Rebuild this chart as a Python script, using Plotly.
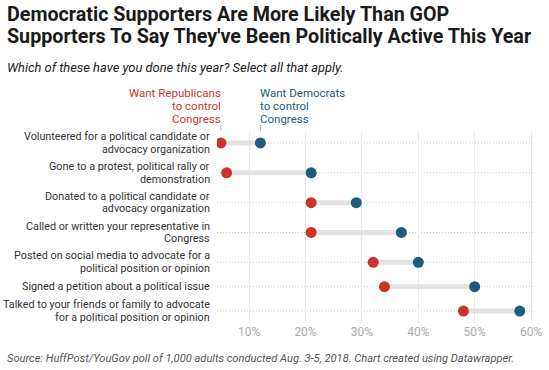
import plotly.graph_objects as go

categories = [
    "Volunteered for a political candidate or<br>advocacy organization",
    "Gone to a protest, political rally or<br>demonstration",
    "Donated to a political candidate or<br>advocacy organization",
    "Called or written your representative in<br>Congress",
    "Posted on social media to advocate for a<br>political position or opinion",
    "Signed a petition about a political issue",
    "Talked to your friends or family to advocate<br>for a political position or opinion",
]
want_rep = [5, 6, 21, 21, 32, 34, 48]
want_dem = [12, 21, 29, 37, 40, 50, 58]
x_ticks = [10, 20, 30, 40, 50, 60]
x_tick_labels = ["10%", "20%", "30%", "40%", "50%", "60%"]
rep_label = ["Want Republicans", "to control", "Congress"]
dem_label = ["Want Democrats", "to control", "Congress"]
title_lines = ["Democratic Supporters Are More Likely Than GOP",
               "Supporters To Say They've Been Politically Active This Year"]

RED = "#c9352b"
BLUE = "#1e5c7b"

W, H = 549, 370
ML, MR, MT, MB = 217, 14, 131, 47
PW, PH = W - ML - MR, H - MT - MB


def px_x(x):
    return (x - ML) / PW


def px_y(y):
    return (H - MB - y) / PH


# row positions derived from number of label lines
lines = [c.count("<br>") + 1 for c in categories]
pos = [0.0]
for i in range(1, len(lines)):
    pos.append(pos[-1] + 5.5 * (lines[i - 1] + lines[i]) + 8)

fig = go.Figure()
for i, y in enumerate(pos):
    fig.add_shape(type="line", xref="paper", yref="y", x0=0, x1=1, y0=y, y1=y,
                  line=dict(color="#cccccc", width=1, dash="1px,2px"), layer="below")
    fig.add_trace(go.Scatter(x=[want_rep[i], want_dem[i]], y=[y, y], mode="lines",
                             line=dict(color="#e2e2e2", width=5), hoverinfo="skip",
                             showlegend=False))
    parts = categories[i].split("<br>")
    n = len(parts)
    for j, t in enumerate(parts):
        fig.add_annotation(x=0, y=y, xref="paper", yref="y", xanchor="right", yanchor="middle",
                           xshift=-5, yshift=-(j - (n - 1) / 2) * 12.7, showarrow=False, text=t,
                           font=dict(size=10.8, color="#333333", family="Roboto"))

fig.add_trace(go.Scatter(x=want_rep, y=pos, mode="markers", name="Want Republicans",
                         marker=dict(color=RED, size=11), showlegend=False))
fig.add_trace(go.Scatter(x=want_dem, y=pos, mode="markers", name="Want Democrats",
                         marker=dict(color=BLUE, size=11), showlegend=False))

# header labels above first row
for lbl, xv, col, anchor, sh in ((rep_label, want_rep[0], RED, "right", 2),
                                  (dem_label, want_dem[0], BLUE, "left", -2)):
    for j, t in enumerate(lbl):
        fig.add_annotation(x=xv, y=1, xref="x", yref="paper", yanchor="middle", xanchor=anchor,
                           xshift=sh, yshift=12 + (len(lbl) - 1 - j) * 12.8, showarrow=False,
                           text=t, font=dict(color=col, size=11.5, family="Roboto"))
    fig.add_shape(type="line", xref="x", yref="paper", x0=xv, x1=xv, y0=1.0, y1=1 + 6 / PH,
                  line=dict(color="#a8b4c0", width=1))

fig.update_layout(
    width=W, height=H,
    margin=dict(l=ML, r=MR, t=MT, b=MB, autoexpand=False),
    paper_bgcolor="white", plot_bgcolor="white",
    font=dict(family="Roboto", color="#333333"),
    xaxis=dict(range=[4.3, 60.7], tickvals=x_ticks, ticktext=x_tick_labels, showgrid=True,
               gridcolor="#e8e8e8", gridwidth=1, zeroline=False, showline=False, automargin=False,
               tickfont=dict(size=12, color="#aaaaaa"), ticks="", fixedrange=True),
    yaxis=dict(range=[pos[-1] + 12, -12], showgrid=False, showticklabels=False,
               zeroline=False, showline=False, ticks="", automargin=False, fixedrange=True),
)

for j, t in enumerate(title_lines):
    fig.add_annotation(x=px_x(5), y=px_y(15 + 21.5 * j), xref="paper", yref="paper", showarrow=False,
                       xanchor="left", yanchor="middle", text="<b>" + t + "</b>",
                       font=dict(size=19.7, family="Roboto", color="#1a1a1a"))
fig.add_annotation(x=px_x(5), y=px_y(67), xref="paper", yref="paper", showarrow=False,
                   text="<i>Which of these have you done this year? Select all that apply.</i>",
                   font=dict(size=12.9, color="#222222"), xanchor="left", yanchor="middle")
fig.add_annotation(x=px_x(5), y=px_y(358), xref="paper", yref="paper",
                   showarrow=False, xanchor="left", yanchor="middle",
                   text="<i>Source: HuffPost/YouGov poll of 1,000 adults conducted Aug. 3-5, 2018. Chart created using Datawrapper.</i>",
                   font=dict(size=11.1, color="#555555"))

fig.write_html("out.html", config={"displayModeBar": False},
               post_script="document.body.style.margin='0px';")
